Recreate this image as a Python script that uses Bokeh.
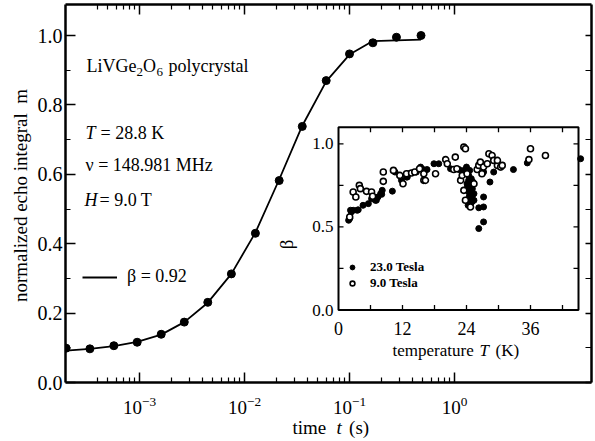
from bokeh.plotting import figure
from bokeh.models import (LogAxis, LinearAxis, FixedTicker, Label, Range1d,
                          LinearScale, Legend, LegendItem, LogTickFormatter,
                          NumeralTickFormatter)
from bokeh.embed import file_html
from bokeh.resources import INLINE

# ---------------- data ----------------
time_s = [2.0e-4, 3.37e-4, 5.7e-4, 9.5e-4, 1.61e-3, 2.67e-3, 4.47e-3, 7.5e-3,
          1.27e-2, 2.14e-2, 3.55e-2, 6.0e-2, 0.10, 0.167, 0.28, 0.48]
echo_m = [0.099, 0.097, 0.106, 0.116, 0.139, 0.174, 0.231, 0.313,
          0.430, 0.582, 0.738, 0.870, 0.947, 0.979, 0.995, 1.000]
fit_m = [0.092, 0.097, 0.105, 0.117, 0.138, 0.174, 0.230, 0.313,
         0.432, 0.585, 0.740, 0.868, 0.945, 0.984, 0.986, 0.988]

T_23 = [1.9, 2.1, 2.25, 2.4, 2.75, 3.5, 3.7, 4.6, 5.6, 6.2, 6.9, 7.1, 7.4, 7.9, 8.1, 8.2,
        10.1, 10.6, 11.8, 12.75, 12.9, 13.1, 14.6, 15.4, 15.9, 16.6, 17.9, 18.8, 21.0,
        22.6, 23.5, 24.0, 24.1, 24.2, 24.3, 24.4, 24.4, 24.5, 24.6, 24.7, 24.75, 24.75,
        24.8, 24.9, 25.0, 25.1, 25.1, 25.2, 25.4, 25.4, 24.1, 24.4, 26.3, 26.3, 27.2,
        27.2, 27.2, 27.2, 28.4, 29.1, 30.4, 32.8, 35.4, 45.4]
beta_23 = [0.54, 0.55, 0.60, 0.59, 0.60, 0.60, 0.603, 0.63, 0.64, 0.67, 0.66, 0.66, 0.68, 0.70,
           0.696, 0.72, 0.715, 0.83, 0.78, 0.80, 0.80, 0.82, 0.83, 0.86, 0.845, 0.845, 0.88,
           0.88, 0.85, 0.845, 0.84, 0.86, 0.83, 0.74, 0.63, 0.81, 0.78, 0.68, 0.84, 0.72,
           0.76, 0.64, 0.75, 0.79, 0.65, 0.73, 0.69, 0.77, 0.66, 0.70, 0.76, 0.71, 0.615,
           0.49, 0.68, 0.62, 0.53, 0.83, 0.77, 0.83, 0.86, 0.845, 0.885, 0.91]

T_9 = [2.1, 2.75, 3.25, 3.9, 4.1, 5.25, 6.2, 6.4, 8.4, 8.4, 10.3, 11.5, 12.1, 12.75, 13.7,
       14.3, 15.2, 16.0, 16.0, 16.3, 18.2, 20.1, 20.4, 21.6, 21.9, 22.2, 22.9, 23.2, 23.5,
       23.8, 23.5, 23.8, 24.1, 24.75, 25.4, 26.0, 26.3, 26.6, 26.9, 27.2, 27.9, 28.2, 28.8,
       29.1, 29.8, 29.8, 30.4, 30.7, 35.7, 36.0, 38.8]
beta_9 = [0.56, 0.71, 0.68, 0.75, 0.73, 0.714, 0.71, 0.684, 0.83, 0.774, 0.84, 0.81, 0.76,
          0.82, 0.824, 0.83, 0.85, 0.78, 0.82, 0.78, 0.82, 0.905, 0.88, 0.845, 0.92, 0.85,
          0.78, 0.81, 0.98, 0.97, 0.72, 0.66, 0.82, 0.62, 0.76, 0.845, 0.87, 0.89, 0.82,
          0.86, 0.88, 0.94, 0.93, 0.90, 0.87, 0.90, 0.86, 0.87, 0.905, 0.97, 0.93]

x_major = [1e-3, 1e-2, 1e-1, 1e0]
x_minor = [m * 1e-4 for m in range(4, 10)] + [m * 10.0 ** e for e in (-3, -2, -1) for m in range(2, 10)]
y_major = [0.0, 0.2, 0.4, 0.6, 0.8, 1.0]
y_minor = [0.1, 0.3, 0.5, 0.7, 0.9]

ins_x_lbl_ticks = [0, 12, 24, 36]
ins_x_ticks = [6, 12, 18, 24, 30, 36, 42]
ins_y_lbl_ticks = [0.0, 0.5, 1.0]
ins_y_lbl = ["0.0", "0.5", "1.0"]
ins_y_ticks = [0.25, 0.5, 0.75, 1.0]
INS_X_MAX, INS_Y_MAX = 45.0, 1.1

# ---------------- layout (page pixel coordinates) ----------------
W, H = 595, 441
FL, FR, FT, FB = 65, 591, 4, 382           # main frame
DEC = 105.0                                # px per decade
X_E3 = 139.0                               # px of 1e-3
LX0 = -3 - (X_E3 - FL) / DEC
LX1 = -3 + (FR - X_E3) / DEC
Y1_PX = 35.0
YMAX = (FB - FT) / (FB - Y1_PX)

IL, IB = 338.0, 309.5                      # inset frame left / bottom px
IPX = 240.0 / INS_X_MAX                    # px per K
IPY = 166.2                                # px per unit beta


def mx(sx):
    return 10 ** (LX0 + (sx - FL) / DEC)


def my(sy):
    return (FB - sy) / (FB - FT) * YMAX


def ix(sx):
    return (sx - IL) / IPX


def iy(sy):
    return (IB - sy) / IPY


FONT = "Liberation Serif"
NB = "\u00a0"

p = figure(width=W, height=H, x_axis_type="log",
           x_range=Range1d(10 ** LX0, 10 ** LX1), y_range=Range1d(0, YMAX),
           output_backend="svg", toolbar_location=None,
           min_border_left=FL, min_border_right=W - FR,
           min_border_top=FT, min_border_bottom=H - FB)
p.extra_x_ranges = {"tx": Range1d(ix(FL), ix(FR))}
p.extra_y_ranges = {"ty": Range1d(iy(FB), iy(FT))}
p.extra_x_scales = {"tx": LinearScale()}
p.extra_y_scales = {"ty": LinearScale()}
p.grid.visible = False
p.outline_line_color = None
p.background_fill_color = "white"
p.border_fill_color = "white"

p.xaxis.ticker = FixedTicker(ticks=x_major, minor_ticks=x_minor)
p.xaxis.formatter = LogTickFormatter()
p.yaxis.ticker = FixedTicker(ticks=y_major, minor_ticks=y_minor)
p.yaxis.formatter = NumeralTickFormatter(format="0.0")
p.add_layout(LogAxis(ticker=FixedTicker(ticks=x_major, minor_ticks=x_minor)), "above")
p.add_layout(LinearAxis(ticker=FixedTicker(ticks=y_major, minor_ticks=y_minor)), "right")

for ax in p.axis:
    ax.axis_line_width = 2.5
    ax.axis_line_color = "black"
    ax.major_tick_out = 0
    ax.minor_tick_out = 0
    ax.major_tick_in = 10
    ax.minor_tick_in = 5
    ax.major_tick_line_width = 1.5
    ax.minor_tick_line_width = 1.2
    ax.major_label_text_font = FONT
    ax.major_label_text_color = "black"
for ax in p.above + p.right:
    ax.major_label_text_font_size = "1px"
    ax.major_label_text_alpha = 0
    ax.major_label_standoff = 0
for ax in p.right:
    ax.major_tick_in = 6
    ax.minor_tick_in = 6
for ax in p.left:
    ax.major_label_text_font_size = "20px"
    ax.major_label_standoff = 3
for ax in p.below:
    ax.major_label_text_font_size = "19px"
    ax.major_label_standoff = 14

# ---------------- main data ----------------
r_fit = p.line(time_s, fit_m, line_color="black", line_width=1.8)
p.scatter(time_s, echo_m, marker="circle", size=8, fill_color="black", line_color="black")

# ---------------- inset ----------------
INS = dict(x_range_name="tx", y_range_name="ty")
p.quad(left=0, right=INS_X_MAX, bottom=0, top=INS_Y_MAX, fill_color="white",
       line_color="black", line_width=2, **INS)
tlx = 5.0 / IPX
tly = 5.0 / IPY
p.segment(x0=ins_x_ticks, x1=ins_x_ticks, y0=[0] * len(ins_x_ticks), y1=[tly] * len(ins_x_ticks),
          line_color="black", line_width=1.3, **INS)
p.segment(x0=ins_x_ticks, x1=ins_x_ticks, y0=[INS_Y_MAX] * len(ins_x_ticks),
          y1=[INS_Y_MAX - tly] * len(ins_x_ticks), line_color="black", line_width=1.3, **INS)
p.segment(x0=[0] * len(ins_y_ticks), x1=[tlx] * len(ins_y_ticks), y0=ins_y_ticks, y1=ins_y_ticks,
          line_color="black", line_width=1.3, **INS)
p.segment(x0=[INS_X_MAX] * len(ins_y_ticks), x1=[INS_X_MAX - tlx] * len(ins_y_ticks),
          y0=ins_y_ticks, y1=ins_y_ticks, line_color="black", line_width=1.3, **INS)

r23 = p.scatter(T_23, beta_23, marker="circle", size=6, fill_color="black",
                line_color="black", **INS)
r9 = p.scatter(T_9, beta_9, marker="circle", size=6, fill_color="white",
               line_color="black", line_width=1.6, **INS)


# ---------------- texts ----------------
def lab(text, x, y, size, align="left", base="middle", style="normal", angle=0,
        inset=False, place="center"):
    kw = dict(x=x, y=y, text=text, text_font=FONT, text_font_size=f"{size}px",
              text_align=align, text_baseline=base, text_font_style=style,
              text_color="black", angle=angle, angle_units="deg")
    if inset:
        kw.update(x_range_name="tx", y_range_name="ty")
    p.add_layout(Label(**kw), place)


# axis titles: outside the frame, so they live in side panels (not clipped);
# each is put in the panel where it takes the least room
lab("normalized echo integral " + NB + "m", mx(20), my(195), 19, align="center",
    angle=90, place="left")
lab("t", mx(336), my(427), 19, style="italic", place="left")
lab("time" + NB * 4 + "\u2009(s)", mx(292), my(427), 19, place="below")

# annotations
lab("LiVGe", mx(86), my(65), 18)
lab("2", mx(136), my(71), 13)
lab("O", mx(142.5), my(65), 18)
lab("6", mx(156), my(71), 13)
lab("polycrystal", mx(168), my(65), 18)
lab("T", mx(85), my(132), 18, style="italic")
lab("= 28.8 K", mx(100), my(132), 18)
lab("\u03bd = 148.981 MHz", mx(85), my(164), 18)
lab("H", mx(84), my(199), 18, style="italic")
lab("= 9.0 T", mx(99), my(199), 18)

# inset tick labels and titles
for v in ins_x_lbl_ticks:
    lab(str(v), v, iy(328), 18, align="center", inset=True)
for v, t in zip(ins_y_lbl_ticks, ins_y_lbl):
    lab(t, ix(333), v, 17, align="right", inset=True)
lab("temperature", ix(392), iy(350), 17, inset=True)
lab("T", ix(479), iy(350), 17, style="italic", inset=True)
lab("(K)", ix(495), iy(350), 17, inset=True)
lab("\u03b2", ix(286), iy(244), 19, align="center", angle=90, inset=True)

# legends
leg_main = Legend(items=[LegendItem(label="\u03b2 = 0.92", renderers=[r_fit])],
                  location=(82 - FL, FB - 287), glyph_width=35, glyph_height=20,
                  label_height=20, label_standoff=10, padding=0, spacing=0, margin=0,
                  label_text_font=FONT, label_text_font_size="18px", label_text_color="black",
                  border_line_color=None, background_fill_alpha=0)
p.add_layout(leg_main)
leg_ins = Legend(items=[LegendItem(label="23.0 Tesla", renderers=[r23]),
                        LegendItem(label="9.0 Tesla", renderers=[r9])],
                 location=(346 - FL, FB - 291), glyph_width=12, glyph_height=16,
                 label_height=16, label_standoff=12, padding=0, spacing=0, margin=0,
                 label_text_font=FONT, label_text_font_size="13px",
                 label_text_font_style="bold", label_text_color="black",
                 border_line_color=None, background_fill_alpha=0)
p.add_layout(leg_ins)

open("out.html", "w").write(file_html(p, INLINE))
